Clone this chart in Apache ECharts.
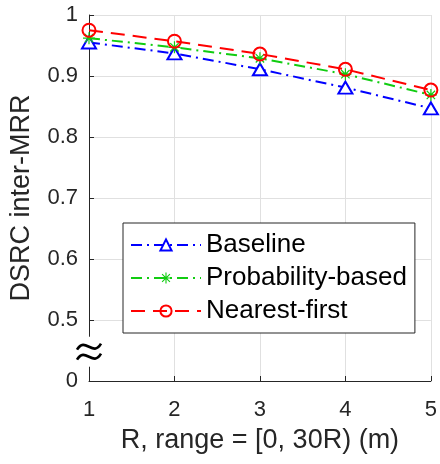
<!DOCTYPE html>
<html>
<head>
<meta charset="utf-8">
<script src="https://cdn.jsdelivr.net/npm/echarts@6/dist/echarts.min.js"></script>
<style>html,body{margin:0;padding:0;background:#fff;}#c{width:440px;height:464px;}</style>
</head>
<body>
<div id="c"></div>
<script>
const xValues = [1, 2, 3, 4, 5];
const baseline = [0.955, 0.937, 0.911, 0.881, 0.847];
const probability = [0.962, 0.947, 0.929, 0.903, 0.869];
const nearest = [0.975, 0.957, 0.936, 0.911, 0.877];
const seriesNames = ['Baseline', 'Probability-based', 'Nearest-first'];
const yTicks = [0.4, 0.5, 0.6, 0.7, 0.8, 0.9, 1.0];
const yTickLabels = ['0', '0.5', '0.6', '0.7', '0.8', '0.9', '1'];

const asterisk = 'path://M0 9L20 9L20 11L0 11Z M9 0L11 0L11 20L9 20Z M2.3 3.7L3.7 2.3L17.7 16.3L16.3 17.7Z M16.3 2.3L17.7 3.7L3.7 17.7L2.3 16.3Z';
const txt = '#262626';
const font = 'Arial, "Liberation Sans", Helvetica, sans-serif';

function pts(arr) { return xValues.map((x, i) => [x, arr[i]]); }
function yLabel(v) {
  for (let i = 0; i < yTicks.length; i++) if (Math.abs(v - yTicks[i]) < 1e-6) return yTickLabels[i];
  return '';
}

const chart = echarts.init(document.getElementById('c'), null, {renderer: 'canvas'});
chart.setOption({
  animation: false,
  backgroundColor: '#fff',
  textStyle: {fontFamily: font},
  grid: {left: 88, right: 7, top: 15, bottom: 83, containLabel: false},
  xAxis: {
    type: 'value', min: 1, max: 5, interval: 1,
    name: 'R, range = [0, 30R) (m)', nameLocation: 'middle', nameGap: 46,
    nameTextStyle: {fontSize: 27, color: txt, fontFamily: font},
    axisLine: {show: true, onZero: false, lineStyle: {color: txt, width: 1}},
    axisTick: {show: true, inside: true, length: 5, lineStyle: {color: txt}},
    axisLabel: {fontSize: 22, color: txt, margin: 18, fontFamily: font},
    splitLine: {show: true, lineStyle: {color: '#e0e0e0', width: 1}}
  },
  yAxis: {
    type: 'value', min: 0.4, max: 1, interval: 0.1,
    name: 'DSRC inter-MRR', nameLocation: 'middle', nameGap: 54,
    nameTextStyle: {fontSize: 27, color: txt, fontFamily: font},
    axisLine: {show: true, onZero: false, lineStyle: {color: txt, width: 1}},
    axisTick: {show: true, inside: true, length: 5, lineStyle: {color: txt}},
    axisLabel: {fontSize: 22, color: txt, margin: 11, fontFamily: font, formatter: yLabel},
    splitLine: {show: true, lineStyle: {color: '#e0e0e0', width: 1}}
  },
  legend: {
    orient: 'vertical', left: 123, top: 223,
    data: seriesNames,
    backgroundColor: '#fff', borderColor: '#262626', borderWidth: 1,
    padding: [9, 8, 9, 7],
    itemWidth: 70, itemHeight: 14, itemGap: 7, itemTextGap: 7,
    textStyle: {fontSize: 26, color: '#000', fontFamily: font, lineHeight: 26}
  },
  series: [
    {
      name: seriesNames[0], type: 'line', data: pts(baseline),
      symbol: 'triangle', symbolSize: [14, 12], showAllSymbol: true,
      lineStyle: {color: '#0000ff', width: 2, type: [11, 5, 2, 5]},
      itemStyle: {color: '#fff', borderColor: '#0000ff', borderWidth: 2},
      z: 3
    },
    {
      name: seriesNames[1], type: 'line', data: pts(probability),
      symbol: asterisk, symbolSize: 12,
      lineStyle: {color: '#11cc11', width: 2, type: [11, 5, 2, 5]},
      itemStyle: {color: '#11cc11', borderWidth: 0},
      z: 4
    },
    {
      name: seriesNames[2], type: 'line', data: pts(nearest),
      symbol: 'circle', symbolSize: 13,
      lineStyle: {color: '#ff0000', width: 2, type: [14, 8]},
      itemStyle: {color: 'rgba(255,255,255,0)', borderColor: '#ff0000', borderWidth: 2},
      z: 5
    }
  ]
});

const p = chart.convertToPixel({gridIndex: 0}, [1, 0.448]);
function tildeShape(dy) {
  return {
    type: 'bezierCurve', x: p[0], y: p[1] + dy,
    shape: {x1: -12, y1: 3, x2: 12, y2: -3, cpx1: -4, cpy1: -11, cpx2: 4, cpy2: 11},
    style: {fill: null, stroke: '#000', lineWidth: 2.6}, z: 101
  };
}
chart.setOption({
  graphic: [
    {type: 'rect', shape: {x: p[0] - 3, y: p[1] - 15, width: 6, height: 30}, style: {fill: '#fff'}, z: 100},
    tildeShape(-5),
    tildeShape(5)
  ]
});
</script>
</body>
</html>
